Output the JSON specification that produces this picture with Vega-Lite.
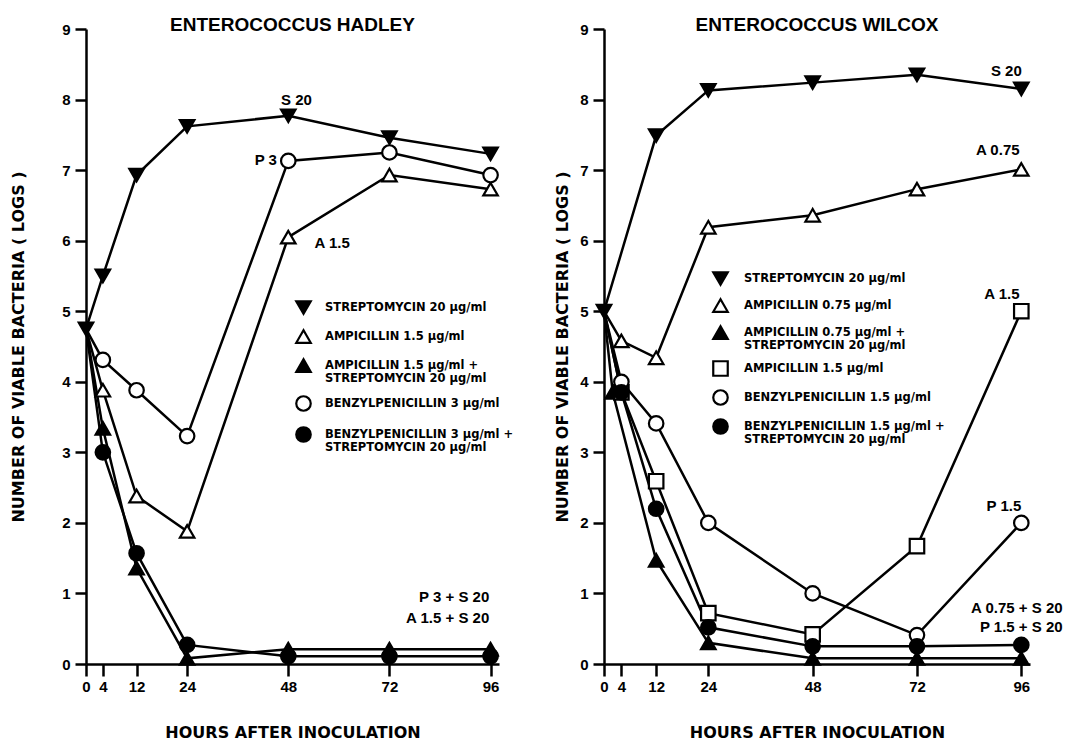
{
  "$schema": "https://vega.github.io/schema/vega-lite/v6.json",
  "padding": {"left": 10, "top": 16, "right": 0, "bottom": 0},
  "background": "white",
  "spacing": 40,
  "config": {
    "font": "Liberation Sans",
    "view": {"stroke": null},
    "axis": {
      "grid": false,
      "domainColor": "black", "domainWidth": 2.5,
      "tickColor": "black", "tickWidth": 2.5,
      "labelColor": "black", "labelFont": "Liberation Sans", "labelFontSize": 15, "labelFontWeight": "bold",
      "labelOverlap": false, "labelFlush": false,
      "titleColor": "black", "titleFont": "DejaVu Sans", "titleFontSize": 16, "titleFontWeight": "bold"
    },
    "title": {"fontSize": 19, "fontWeight": "bold", "color": "black", "offset": -13, "font": "Liberation Sans"},
    "legend": {
      "orient": "none", "title": null, "padding": 0,
      "labelFont": "DejaVu Sans", "labelFontSize": 11.5, "labelFontWeight": "bold", "labelColor": "black",
      "labelLimit": 400, "symbolSize": 210, "symbolStrokeWidth": 2.2
    }
  },
  "datasets": {
    "hadley": [
      {"series": "STREPTOMYCIN  20 μg/ml", "hour": 0, "logs": 4.75},
      {"series": "STREPTOMYCIN  20 μg/ml", "hour": 4, "logs": 5.5},
      {"series": "STREPTOMYCIN  20 μg/ml", "hour": 12, "logs": 6.93},
      {"series": "STREPTOMYCIN  20 μg/ml", "hour": 24, "logs": 7.62},
      {"series": "STREPTOMYCIN  20 μg/ml", "hour": 48, "logs": 7.77},
      {"series": "STREPTOMYCIN  20 μg/ml", "hour": 72, "logs": 7.46},
      {"series": "STREPTOMYCIN  20 μg/ml", "hour": 96, "logs": 7.23},
      {"series": "AMPICILLIN  1.5 μg/ml", "hour": 0, "logs": 4.75},
      {"series": "AMPICILLIN  1.5 μg/ml", "hour": 4, "logs": 3.88},
      {"series": "AMPICILLIN  1.5 μg/ml", "hour": 12, "logs": 2.38},
      {"series": "AMPICILLIN  1.5 μg/ml", "hour": 24, "logs": 1.88},
      {"series": "AMPICILLIN  1.5 μg/ml", "hour": 48, "logs": 6.05},
      {"series": "AMPICILLIN  1.5 μg/ml", "hour": 72, "logs": 6.93},
      {"series": "AMPICILLIN  1.5 μg/ml", "hour": 96, "logs": 6.73},
      {"series": "AMPICILLIN  1.5 μg/ml + STREPTOMYCIN  20 μg/ml", "hour": 0, "logs": 4.75},
      {"series": "AMPICILLIN  1.5 μg/ml + STREPTOMYCIN  20 μg/ml", "hour": 4, "logs": 3.34},
      {"series": "AMPICILLIN  1.5 μg/ml + STREPTOMYCIN  20 μg/ml", "hour": 12, "logs": 1.36},
      {"series": "AMPICILLIN  1.5 μg/ml + STREPTOMYCIN  20 μg/ml", "hour": 24, "logs": 0.08},
      {"series": "AMPICILLIN  1.5 μg/ml + STREPTOMYCIN  20 μg/ml", "hour": 48, "logs": 0.21},
      {"series": "AMPICILLIN  1.5 μg/ml + STREPTOMYCIN  20 μg/ml", "hour": 72, "logs": 0.21},
      {"series": "AMPICILLIN  1.5 μg/ml + STREPTOMYCIN  20 μg/ml", "hour": 96, "logs": 0.21},
      {"series": "BENZYLPENICILLIN 3 μg/ml", "hour": 0, "logs": 4.75},
      {"series": "BENZYLPENICILLIN 3 μg/ml", "hour": 4, "logs": 4.31},
      {"series": "BENZYLPENICILLIN 3 μg/ml", "hour": 12, "logs": 3.88},
      {"series": "BENZYLPENICILLIN 3 μg/ml", "hour": 24, "logs": 3.23},
      {"series": "BENZYLPENICILLIN 3 μg/ml", "hour": 48, "logs": 7.13},
      {"series": "BENZYLPENICILLIN 3 μg/ml", "hour": 72, "logs": 7.25},
      {"series": "BENZYLPENICILLIN 3 μg/ml", "hour": 96, "logs": 6.93},
      {"series": "BENZYLPENICILLIN 3 μg/ml + STREPTOMYCIN  20 μg/ml", "hour": 0, "logs": 4.75},
      {"series": "BENZYLPENICILLIN 3 μg/ml + STREPTOMYCIN  20 μg/ml", "hour": 4, "logs": 3.0},
      {"series": "BENZYLPENICILLIN 3 μg/ml + STREPTOMYCIN  20 μg/ml", "hour": 12, "logs": 1.57},
      {"series": "BENZYLPENICILLIN 3 μg/ml + STREPTOMYCIN  20 μg/ml", "hour": 24, "logs": 0.27},
      {"series": "BENZYLPENICILLIN 3 μg/ml + STREPTOMYCIN  20 μg/ml", "hour": 48, "logs": 0.11},
      {"series": "BENZYLPENICILLIN 3 μg/ml + STREPTOMYCIN  20 μg/ml", "hour": 72, "logs": 0.11},
      {"series": "BENZYLPENICILLIN 3 μg/ml + STREPTOMYCIN  20 μg/ml", "hour": 96, "logs": 0.11}
    ],
    "wilcox": [
      {"series": "STREPTOMYCIN  20 μg/ml", "hour": 0, "logs": 5.0},
      {"series": "STREPTOMYCIN  20 μg/ml", "hour": 12, "logs": 7.49},
      {"series": "STREPTOMYCIN  20 μg/ml", "hour": 24, "logs": 8.13},
      {"series": "STREPTOMYCIN  20 μg/ml", "hour": 48, "logs": 8.24},
      {"series": "STREPTOMYCIN  20 μg/ml", "hour": 72, "logs": 8.35},
      {"series": "STREPTOMYCIN  20 μg/ml", "hour": 96, "logs": 8.15},
      {"series": "AMPICILLIN  0.75 μg/ml", "hour": 0, "logs": 5.0},
      {"series": "AMPICILLIN  0.75 μg/ml", "hour": 4, "logs": 4.58},
      {"series": "AMPICILLIN  0.75 μg/ml", "hour": 12, "logs": 4.34},
      {"series": "AMPICILLIN  0.75 μg/ml", "hour": 24, "logs": 6.19},
      {"series": "AMPICILLIN  0.75 μg/ml", "hour": 48, "logs": 6.36},
      {"series": "AMPICILLIN  0.75 μg/ml", "hour": 72, "logs": 6.73},
      {"series": "AMPICILLIN  0.75 μg/ml", "hour": 96, "logs": 7.01},
      {"series": "AMPICILLIN  0.75 μg/ml + STREPTOMYCIN  20 μg/ml", "hour": 0, "logs": 5.0},
      {"series": "AMPICILLIN  0.75 μg/ml + STREPTOMYCIN  20 μg/ml", "hour": 2, "logs": 3.85},
      {"series": "AMPICILLIN  0.75 μg/ml + STREPTOMYCIN  20 μg/ml", "hour": 12, "logs": 1.47},
      {"series": "AMPICILLIN  0.75 μg/ml + STREPTOMYCIN  20 μg/ml", "hour": 24, "logs": 0.3},
      {"series": "AMPICILLIN  0.75 μg/ml + STREPTOMYCIN  20 μg/ml", "hour": 48, "logs": 0.08},
      {"series": "AMPICILLIN  0.75 μg/ml + STREPTOMYCIN  20 μg/ml", "hour": 72, "logs": 0.08},
      {"series": "AMPICILLIN  0.75 μg/ml + STREPTOMYCIN  20 μg/ml", "hour": 96, "logs": 0.08},
      {"series": "AMPICILLIN  1.5 μg/ml", "hour": 0, "logs": 5.0},
      {"series": "AMPICILLIN  1.5 μg/ml", "hour": 4, "logs": 3.85},
      {"series": "AMPICILLIN  1.5 μg/ml", "hour": 12, "logs": 2.59},
      {"series": "AMPICILLIN  1.5 μg/ml", "hour": 24, "logs": 0.72},
      {"series": "AMPICILLIN  1.5 μg/ml", "hour": 48, "logs": 0.42},
      {"series": "AMPICILLIN  1.5 μg/ml", "hour": 72, "logs": 1.67},
      {"series": "AMPICILLIN  1.5 μg/ml", "hour": 96, "logs": 5.0},
      {"series": "BENZYLPENICILLIN  1.5 μg/ml", "hour": 0, "logs": 5.0},
      {"series": "BENZYLPENICILLIN  1.5 μg/ml", "hour": 4, "logs": 4.0},
      {"series": "BENZYLPENICILLIN  1.5 μg/ml", "hour": 12, "logs": 3.41},
      {"series": "BENZYLPENICILLIN  1.5 μg/ml", "hour": 24, "logs": 2.0},
      {"series": "BENZYLPENICILLIN  1.5 μg/ml", "hour": 48, "logs": 1.0},
      {"series": "BENZYLPENICILLIN  1.5 μg/ml", "hour": 72, "logs": 0.41},
      {"series": "BENZYLPENICILLIN  1.5 μg/ml", "hour": 96, "logs": 2.0},
      {"series": "BENZYLPENICILLIN  1.5 μg/ml + STREPTOMYCIN  20 μg/ml", "hour": 0, "logs": 5.0},
      {"series": "BENZYLPENICILLIN  1.5 μg/ml + STREPTOMYCIN  20 μg/ml", "hour": 4, "logs": 3.85},
      {"series": "BENZYLPENICILLIN  1.5 μg/ml + STREPTOMYCIN  20 μg/ml", "hour": 12, "logs": 2.2},
      {"series": "BENZYLPENICILLIN  1.5 μg/ml + STREPTOMYCIN  20 μg/ml", "hour": 24, "logs": 0.52},
      {"series": "BENZYLPENICILLIN  1.5 μg/ml + STREPTOMYCIN  20 μg/ml", "hour": 48, "logs": 0.25},
      {"series": "BENZYLPENICILLIN  1.5 μg/ml + STREPTOMYCIN  20 μg/ml", "hour": 72, "logs": 0.25},
      {"series": "BENZYLPENICILLIN  1.5 μg/ml + STREPTOMYCIN  20 μg/ml", "hour": 96, "logs": 0.27}
    ],
    "notes": [
      {"panel": "Hadley", "note": "S 20", "hour": 53.6, "logs": 7.99},
      {"panel": "Hadley", "note": "P 3", "hour": 45.3, "logs": 7.15},
      {"panel": "Hadley", "note": "A 1.5", "hour": 62.6, "logs": 5.96},
      {"panel": "Hadley", "note": "P 3 + S 20", "hour": 95.7, "logs": 0.95},
      {"panel": "Hadley", "note": "A 1.5 + S 20", "hour": 95.7, "logs": 0.65},
      {"panel": "Wilcox", "note": "S 20", "hour": 96.1, "logs": 8.41},
      {"panel": "Wilcox", "note": "A 0.75", "hour": 95.6, "logs": 7.28},
      {"panel": "Wilcox", "note": "A 1.5", "hour": 95.6, "logs": 5.25},
      {"panel": "Wilcox", "note": "P 1.5", "hour": 96, "logs": 2.24},
      {"panel": "Wilcox", "note": "A 0.75 + S 20", "hour": 105.5, "logs": 0.79},
      {"panel": "Wilcox", "note": "P 1.5 + S 20", "hour": 105.5, "logs": 0.52}
    ]
  },
  "resolve": {
    "scale": {"x": "independent", "y": "independent", "shape": "independent", "fill": "independent", "stroke": "independent"},
    "legend": {"shape": "independent", "fill": "independent", "stroke": "independent"}
  },
  "hconcat": [
    {
      "width": 413,
      "height": 635,
      "title": "ENTEROCOCCUS  HADLEY",
      "layer": [
        {
          "data": {"name": "hadley"},
          "mark": {"type": "line", "color": "black", "strokeWidth": 2.5},
          "encoding": {
            "x": {"field": "hour", "type": "quantitative", "scale": {"domain": [0, 98], "nice": false},
                  "axis": {"values": [0, 4, 12, 24, 48, 72, 96], "tickSize": 12, "labelPadding": 3, "title": "HOURS AFTER INOCULATION", "titlePadding": 30}},
            "y": {"field": "logs", "type": "quantitative", "scale": {"domain": [0, 9], "nice": false},
                  "axis": {"values": [0, 1, 2, 3, 4, 5, 6, 7, 8, 9], "format": "d", "tickSize": 11, "labelPadding": 5, "title": "NUMBER OF VIABLE  BACTERIA ( LOGS )", "titlePadding": 35}},
            "detail": {"field": "series"}
          }
        },
        {
          "data": {"name": "hadley"},
          "transform": [{"filter": "datum.hour > 0 || indexof(datum.series, 'STREPTOMYCIN') == 0"}],
          "mark": {"type": "point", "filled": true, "strokeWidth": 2.2, "size": 210, "opacity": 1},
          "encoding": {
            "x": {"field": "hour", "type": "quantitative", "scale": {"domain": [0, 98], "nice": false}},
            "y": {"field": "logs", "type": "quantitative", "scale": {"domain": [0, 9], "nice": false}},
            "shape": {"field": "series", "type": "nominal",
              "scale": {"domain": ["STREPTOMYCIN  20 μg/ml", "AMPICILLIN  1.5 μg/ml", "AMPICILLIN  1.5 μg/ml + STREPTOMYCIN  20 μg/ml", "BENZYLPENICILLIN 3 μg/ml", "BENZYLPENICILLIN 3 μg/ml + STREPTOMYCIN  20 μg/ml"],
                        "range": ["triangle-down", "triangle-up", "triangle-up", "circle", "circle"]},
              "legend": {"legendX": 209, "legendY": 270, "labelOffset": 13, "rowPadding": 6, "symbolStrokeWidth": 2.2,
                "labelExpr": "indexof(datum.label, '+') > 0 ? [slice(datum.label, 0, indexof(datum.label, '+') + 1), slice(datum.label, indexof(datum.label, '+') + 2)] : datum.label"}},
            "fill": {"field": "series", "type": "nominal",
              "scale": {"domain": ["STREPTOMYCIN  20 μg/ml", "AMPICILLIN  1.5 μg/ml", "AMPICILLIN  1.5 μg/ml + STREPTOMYCIN  20 μg/ml", "BENZYLPENICILLIN 3 μg/ml", "BENZYLPENICILLIN 3 μg/ml + STREPTOMYCIN  20 μg/ml"],
                        "range": ["black", "white", "black", "white", "black"]},
              "legend": {"legendX": 209, "legendY": 270, "labelOffset": 13, "rowPadding": 6, "symbolStrokeWidth": 2.2,
                "labelExpr": "indexof(datum.label, '+') > 0 ? [slice(datum.label, 0, indexof(datum.label, '+') + 1), slice(datum.label, indexof(datum.label, '+') + 2)] : datum.label"}},
            "stroke": {"field": "series", "type": "nominal",
              "scale": {"domain": ["STREPTOMYCIN  20 μg/ml", "AMPICILLIN  1.5 μg/ml", "AMPICILLIN  1.5 μg/ml + STREPTOMYCIN  20 μg/ml", "BENZYLPENICILLIN 3 μg/ml", "BENZYLPENICILLIN 3 μg/ml + STREPTOMYCIN  20 μg/ml"],
                        "range": ["black", "black", "black", "black", "black"]},
              "legend": {"legendX": 209, "legendY": 270, "labelOffset": 13, "rowPadding": 6, "symbolStrokeWidth": 2.2,
                "labelExpr": "indexof(datum.label, '+') > 0 ? [slice(datum.label, 0, indexof(datum.label, '+') + 1), slice(datum.label, indexof(datum.label, '+') + 2)] : datum.label"}}
          }
        },
        {
          "data": {"name": "notes"},
          "transform": [{"filter": "datum.panel == 'Hadley'"}],
          "mark": {"type": "text", "align": "right", "baseline": "middle", "fontSize": 15, "fontWeight": "bold", "color": "black"},
          "encoding": {
            "x": {"field": "hour", "type": "quantitative", "scale": {"domain": [0, 98], "nice": false}},
            "y": {"field": "logs", "type": "quantitative", "scale": {"domain": [0, 9], "nice": false}},
            "text": {"field": "note"}
          }
        }
      ]
    },
    {
      "width": 426,
      "height": 635,
      "title": "ENTEROCOCCUS   WILCOX",
      "layer": [
        {
          "data": {"name": "wilcox"},
          "mark": {"type": "line", "color": "black", "strokeWidth": 2.5},
          "encoding": {
            "x": {"field": "hour", "type": "quantitative", "scale": {"domain": [0, 98], "nice": false},
                  "axis": {"values": [0, 4, 12, 24, 48, 72, 96], "tickSize": 12, "labelPadding": 3, "title": "HOURS AFTER INOCULATION", "titlePadding": 30}},
            "y": {"field": "logs", "type": "quantitative", "scale": {"domain": [0, 9], "nice": false},
                  "axis": {"values": [0, 1, 2, 3, 4, 5, 6, 7, 8, 9], "format": "d", "tickSize": 11, "labelPadding": 5, "title": "NUMBER OF VIABLE  BACTERIA ( LOGS )", "titlePadding": 9}},
            "detail": {"field": "series"}
          }
        },
        {
          "data": {"name": "wilcox"},
          "transform": [{"filter": "datum.hour > 0 || indexof(datum.series, 'STREPTOMYCIN') == 0"}],
          "mark": {"type": "point", "filled": true, "strokeWidth": 2.2, "size": 210, "opacity": 1},
          "encoding": {
            "x": {"field": "hour", "type": "quantitative", "scale": {"domain": [0, 98], "nice": false}},
            "y": {"field": "logs", "type": "quantitative", "scale": {"domain": [0, 9], "nice": false}},
            "shape": {"field": "series", "type": "nominal",
              "scale": {"domain": ["STREPTOMYCIN  20 μg/ml", "AMPICILLIN  0.75 μg/ml", "AMPICILLIN  0.75 μg/ml + STREPTOMYCIN  20 μg/ml", "AMPICILLIN  1.5 μg/ml", "BENZYLPENICILLIN  1.5 μg/ml", "BENZYLPENICILLIN  1.5 μg/ml + STREPTOMYCIN  20 μg/ml"],
                        "range": ["triangle-down", "triangle-up", "triangle-up", "square", "circle", "circle"]},
              "legend": {"legendX": 108, "legendY": 241, "labelOffset": 15, "rowPadding": 4, "symbolStrokeWidth": 2.2,
                "labelExpr": "indexof(datum.label, '+') > 0 ? [slice(datum.label, 0, indexof(datum.label, '+') + 1), slice(datum.label, indexof(datum.label, '+') + 2)] : datum.label"}},
            "fill": {"field": "series", "type": "nominal",
              "scale": {"domain": ["STREPTOMYCIN  20 μg/ml", "AMPICILLIN  0.75 μg/ml", "AMPICILLIN  0.75 μg/ml + STREPTOMYCIN  20 μg/ml", "AMPICILLIN  1.5 μg/ml", "BENZYLPENICILLIN  1.5 μg/ml", "BENZYLPENICILLIN  1.5 μg/ml + STREPTOMYCIN  20 μg/ml"],
                        "range": ["black", "white", "black", "white", "white", "black"]},
              "legend": {"legendX": 108, "legendY": 241, "labelOffset": 15, "rowPadding": 4, "symbolStrokeWidth": 2.2,
                "labelExpr": "indexof(datum.label, '+') > 0 ? [slice(datum.label, 0, indexof(datum.label, '+') + 1), slice(datum.label, indexof(datum.label, '+') + 2)] : datum.label"}},
            "stroke": {"field": "series", "type": "nominal",
              "scale": {"domain": ["STREPTOMYCIN  20 μg/ml", "AMPICILLIN  0.75 μg/ml", "AMPICILLIN  0.75 μg/ml + STREPTOMYCIN  20 μg/ml", "AMPICILLIN  1.5 μg/ml", "BENZYLPENICILLIN  1.5 μg/ml", "BENZYLPENICILLIN  1.5 μg/ml + STREPTOMYCIN  20 μg/ml"],
                        "range": ["black", "black", "black", "black", "black", "black"]},
              "legend": {"legendX": 108, "legendY": 241, "labelOffset": 15, "rowPadding": 4, "symbolStrokeWidth": 2.2,
                "labelExpr": "indexof(datum.label, '+') > 0 ? [slice(datum.label, 0, indexof(datum.label, '+') + 1), slice(datum.label, indexof(datum.label, '+') + 2)] : datum.label"}}
          }
        },
        {
          "data": {"name": "notes"},
          "transform": [{"filter": "datum.panel == 'Wilcox'"}],
          "mark": {"type": "text", "align": "right", "baseline": "middle", "fontSize": 15, "fontWeight": "bold", "color": "black"},
          "encoding": {
            "x": {"field": "hour", "type": "quantitative", "scale": {"domain": [0, 98], "nice": false}},
            "y": {"field": "logs", "type": "quantitative", "scale": {"domain": [0, 9], "nice": false}},
            "text": {"field": "note"}
          }
        }
      ]
    }
  ]
}
